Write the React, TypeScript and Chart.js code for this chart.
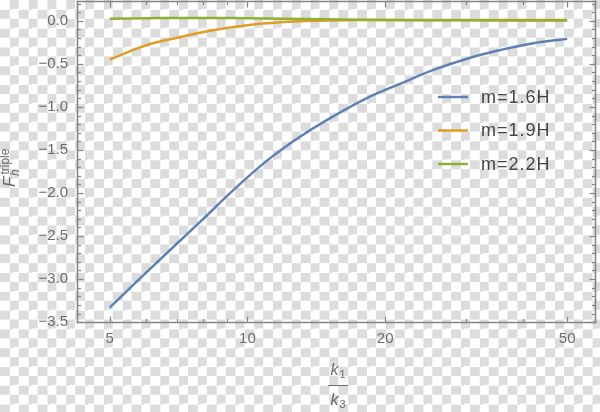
import { Chart, registerables, ChartConfiguration, Plugin } from "chart.js";
import { useEffect, useRef } from "react";

// series (x = k1/k3, log axis)
const xBlue = [5, 6.1, 7.9, 9.3, 11, 13, 15.4, 18.2, 21.6, 25.5, 30.2, 35.7, 42.2, 50];
const yBlue = [-3.33, -2.89, -2.33, -1.97, -1.63, -1.35, -1.11, -0.9, -0.73, -0.57, -0.44, -0.34, -0.26, -0.21];

const xOrange = [5, 6, 7.1, 8.4, 10, 11.8, 14, 17, 20, 30, 50];
const yOrange = [-0.45, -0.285, -0.19, -0.11, -0.052, -0.018, 0.0, 0.008, 0.01, 0.01, 0.008];

const xGreen = [5, 6, 7, 8.5, 10, 12, 15, 20, 30, 50];
const yGreen = [0.025, 0.03, 0.033, 0.033, 0.03, 0.025, 0.018, 0.01, 0.005, 0.003];

const seriesLabels = ["m=1.6H", "m=1.9H", "m=2.2H"];
const seriesColors = ["#5e81b5", "#e19c24", "#8fb032"];

const xTickValues = [5, 10, 20, 50];
const xMinorTicks = [6, 7, 8, 9, 30, 40];
const yTickValues = [0, -0.5, -1, -1.5, -2, -2.5, -3, -3.5];

const FONT = "'Liberation Sans', Arial, sans-serif";
const LABEL_COLOR = "#6b6b6b";
const FRAME_COLOR = "#858585";

const toPoints = (xs: number[], ys: number[]) => xs.map((x, i) => ({ x, y: ys[i] }));

const line = (ctx: CanvasRenderingContext2D, x1: number, y1: number, x2: number, y2: number) => {
  ctx.beginPath();
  ctx.moveTo(x1, y1);
  ctx.lineTo(x2, y2);
  ctx.stroke();
};

// frame with inward ticks, inside legend and the two axis titles
const decorPlugin: Plugin = {
  id: "decor",
  afterDraw(chart) {
    const ctx = chart.ctx;
    const a = chart.chartArea;
    const xs = chart.scales["x"];
    const ys = chart.scales["y"];
    const L = Math.round(a.left) + 0.5;
    const R = Math.round(a.right) - 0.5;
    const T = Math.round(a.top) + 0.5;
    const B = Math.round(a.bottom) - 0.5;

    ctx.save();
    ctx.strokeStyle = FRAME_COLOR;
    ctx.lineWidth = 1.6;
    ctx.lineCap = "square";
    line(ctx, L, T, R, T);
    line(ctx, R, T, R, B);
    line(ctx, L, B, R, B);
    line(ctx, L, T, L, B);
    ctx.lineWidth = 1.2;
    ctx.lineCap = "butt";
    xTickValues.concat(xMinorTicks).forEach((v) => {
      const len = xTickValues.includes(v) ? 6 : 3.5;
      const px = Math.round(xs.getPixelForValue(v)) + 0.5;
      line(ctx, px, B, px, B - len);
      line(ctx, px, T, px, T + len);
    });
    for (let i = -35; i <= 2; i++) {
      const len = i % 5 === 0 ? 6 : 3.5;
      const py = Math.round(ys.getPixelForValue(i / 10)) + 0.5;
      line(ctx, L, py, L + len, py);
      line(ctx, R, py, R - len, py);
    }
    ctx.restore();

    // legend
    ctx.save();
    chart.data.datasets.forEach((ds, i) => {
      const y = 97 + i * 33.5;
      ctx.strokeStyle = ds.borderColor as string;
      ctx.lineWidth = 2.5;
      line(ctx, 438, y, 468, y);
      ctx.fillStyle = "#444";
      ctx.font = `18px ${FONT}`;
      (ctx as any).letterSpacing = "1px";
      ctx.textBaseline = "middle";
      ctx.fillText(ds.label as string, 481, y + 1);
    });
    ctx.restore();

    // titles
    ctx.save();
    ctx.fillStyle = LABEL_COLOR;
    ctx.textBaseline = "alphabetic";
    ctx.save();
    ctx.translate(15, 187);
    ctx.rotate(-Math.PI / 2);
    ctx.font = `italic 17px ${FONT}`;
    ctx.fillText("F", 0, 0);
    const fw = ctx.measureText("F").width;
    ctx.font = `italic 12px ${FONT}`;
    ctx.fillText("h", fw + 0.5, 4);
    ctx.font = `12px ${FONT}`;
    ctx.fillText("triple", fw + 2, -6);
    ctx.restore();

    const cx = 338;
    const drawK = (sub: string, baseline: number) => {
      ctx.font = `italic 16px ${FONT}`;
      const kw = ctx.measureText("k").width;
      ctx.font = `11px ${FONT}`;
      const sw = ctx.measureText(sub).width;
      const x0 = cx - (kw + sw + 1) / 2;
      ctx.font = `italic 16px ${FONT}`;
      ctx.fillText("k", x0, baseline);
      ctx.font = `11px ${FONT}`;
      ctx.fillText(sub, x0 + kw + 1, baseline + 3);
    };
    drawK("1", 375);
    ctx.strokeStyle = LABEL_COLOR;
    ctx.lineWidth = 1;
    line(ctx, 328, 385.5, 348, 385.5);
    drawK("3", 405);
    ctx.restore();
  },
};

const App = () => {
  const canvasRef = useRef<HTMLCanvasElement>(null);

  useEffect(() => {
    const ctx = canvasRef.current?.getContext("2d");
    if (!ctx) {
      return;
    }
    Chart.register(...registerables);

    const series = [
      toPoints(xBlue, yBlue),
      toPoints(xOrange, yOrange),
      toPoints(xGreen, yGreen),
    ];

    const config: ChartConfiguration<"line", { x: number; y: number }[]> = {
      type: "line",
      data: {
        datasets: series.map((data, i) => ({
          label: seriesLabels[i],
          data,
          borderColor: seriesColors[i],
          backgroundColor: seriesColors[i],
          borderWidth: 2.5,
          pointRadius: 0,
          tension: 0.4,
          order: seriesLabels.length - i,
        })),
      },
      options: {
        responsive: false,
        animation: false,
        layout: { padding: { top: 1, right: 4, left: 0, bottom: 0 } },
        plugins: {
          legend: { display: false },
          tooltip: { enabled: false },
        },
        scales: {
          x: {
            type: "logarithmic",
            min: 4.24,
            max: 57.8,
            grid: { display: false, drawTicks: false },
            border: { display: false },
            afterBuildTicks: (scale) => {
              scale.ticks = xTickValues.map((value) => ({ value }));
            },
            afterFit: (scale: any) => {
              scale.height = 89;
              scale.paddingLeft = 0;
              scale.paddingRight = 0;
            },
            ticks: {
              autoSkip: false,
              maxRotation: 0,
              padding: 7,
              color: LABEL_COLOR,
              font: { family: FONT, size: 15 },
              callback: (v) => String(v),
            },
          },
          y: {
            type: "linear",
            min: -3.51,
            max: 0.23,
            grid: { display: false, drawTicks: false },
            border: { display: false },
            afterBuildTicks: (scale) => {
              scale.ticks = yTickValues.map((value) => ({ value }));
            },
            afterFit: (scale: any) => {
              scale.width = 77;
              scale.paddingTop = 0;
              scale.paddingBottom = 0;
            },
            ticks: {
              padding: 9,
              color: LABEL_COLOR,
              font: { family: FONT, size: 15 },
              callback: (v) => Number(v).toFixed(1).replace("-", "\u2212"),
            },
          },
        },
      },
      plugins: [decorPlugin],
    };

    const chart = new Chart(ctx, config);
    return () => {
      chart.destroy();
    };
  }, []);

  return (
    <div
      style={{
        position: "fixed",
        left: 0,
        top: 0,
        width: 600,
        height: 412,
        backgroundColor: "#ffffff",
        backgroundImage:
          "conic-gradient(#dcdcdc 25%, #ffffff 0 50%, #dcdcdc 0 75%, #ffffff 0)",
        backgroundSize: "18.8px 18.8px",
      }}
    >
      <canvas ref={canvasRef} width={600} height={412} style={{ position: "absolute", left: 0, top: 0 }} />
      <div
        style={{
          position: "absolute",
          left: 77,
          top: 1,
          width: 519,
          height: 322,
          boxSizing: "border-box",
          border: `1.5px solid ${FRAME_COLOR}`,
          pointerEvents: "none",
        }}
      />
    </div>
  );
};

export default App;
